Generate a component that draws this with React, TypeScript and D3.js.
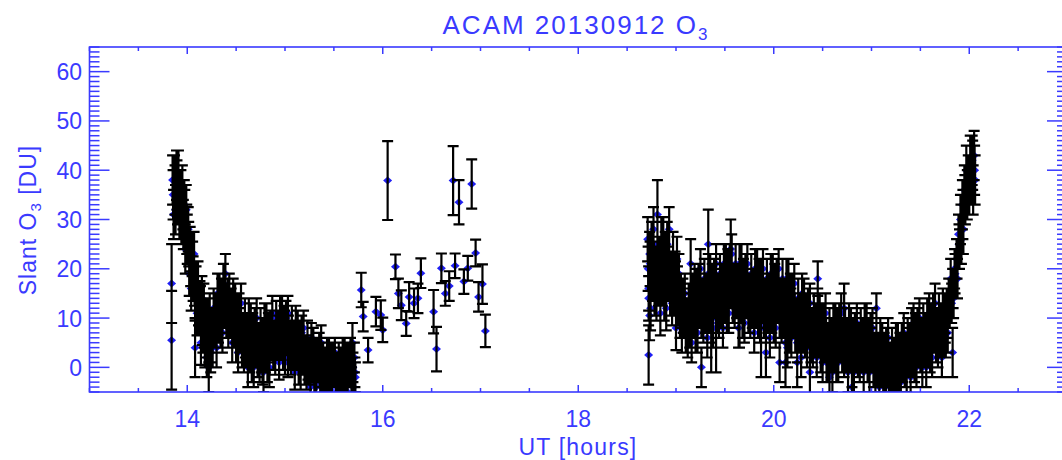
import React, { useRef, useEffect } from 'react';
import * as d3 from 'd3';

// each row: [UT hour, slant O3 (DU), 1-sigma error]
type Obs = [number, number, number];

const morning: Obs[] = [
  [13.85,38,5],[13.86,31,5],[13.87,38,5],[13.88,32,5],[13.89,39,5],[13.90,34,5],[13.91,39,5],[13.92,31,5],[13.93,35,5],[13.94,30,5],
  [13.95,36,5],[13.96,29,5],[13.97,33,5],[13.98,24,5],[13.99,32,5],[14.00,26,5],[14.01,28,4.5],[14.02,19,4.5],[14.03,24,4.5],[14.04,16,4.5],
  [14.05,23,4.5],[14.06,18,4.5],[14.07,23,4.5],[14.08,14,4.5],[14.09,16,4.5],[14.10,11,4.5],[14.11,17,4.5],[14.12,11,4.5],[14.13,13,4.5],[14.14,5,4.5],
  [14.15,14,4.5],[14.16,7,4],[14.17,13,4],[14.18,4,4],[14.19,10,4],[14.20,2,4],[14.21,10,4],[14.22,5,4],[14.23,11,4],[14.24,3,4],
  [14.25,8,4],[14.26,4,4],[14.27,12,4],[14.28,8,4],[14.29,11,4],[14.30,4,4],[14.31,15,4],[14.32,9,4],[14.33,15,4],[14.34,8,4],
  [14.35,14,4],[14.36,7,4],[14.37,17,4],[14.38,12,4],[14.39,19,4],[14.40,10,4],[14.41,13,4],[14.42,8,4],[14.43,15,4],[14.44,10,4],
  [14.45,12,4],[14.46,5,4],[14.47,14,4],[14.48,8,4],[14.49,13,4],[14.50,5,4],[14.51,11,4],[14.52,3,4],[14.53,11,4],[14.54,7,4],
  [14.55,13,4],[14.56,4,4],[14.57,7,4],[14.58,3,4],[14.59,10,4],[14.60,4,4],[14.61,7,4],[14.62,0,4],[14.63,10,4],[14.64,3,4],
  [14.65,9,4],[14.66,1,4],[14.67,7,4],[14.68,0,4],[14.69,8,4],[14.70,4,4],[14.71,10,4],[14.72,2,4],[14.73,5,4],[14.74,1,4],
  [14.75,8,4],[14.76,3,4],[14.77,6,4],[14.78,-1,4],[14.79,9,4],[14.80,3,4],[14.81,9,4],[14.82,1,4],[14.83,7,4],[14.84,0,4],
  [14.85,8,3.5],[14.86,5,3.5],[14.87,11,3.5],[14.88,3,3.5],[14.89,6,3.5],[14.90,2,3.5],[14.91,10,3.5],[14.92,5,3.5],[14.93,8,3.5],[14.94,1,3.5],
  [14.95,11,3.5],[14.96,5,3.5],[14.97,11,3.5],[14.98,3,3.5],[14.99,9,3.5],[15.00,2,3.5],[15.01,10,3.5],[15.02,6,3.5],[15.03,11,3.5],[15.04,3,3.5],
  [15.05,6,3.5],[15.06,2,3.5],[15.07,9,3.5],[15.08,3,3.5],[15.09,6,3.5],[15.10,-1,3.5],[15.11,9,3.5],[15.12,3,3.5],[15.13,8,3.5],[15.14,0,3.5],
  [15.15,6,3.5],[15.16,-1,3.5],[15.17,7,3.5],[15.18,2,3.5],[15.19,8,3.5],[15.20,0,3.5],[15.21,3,3.5],[15.22,-1,3.5],[15.23,6,3.5],[15.24,0,3.5],
  [15.25,3,3],[15.26,-4,3],[15.27,6,3],[15.28,0,3],[15.29,5,3],[15.30,-3,3],[15.31,3,3],[15.32,-4,3],[15.33,3,3],[15.34,0,3],
  [15.35,4,3],[15.36,-3,3],[15.37,0,3],[15.38,-4,3],[15.39,2,3],[15.40,-2,3],[15.41,1,3],[15.42,-6,3],[15.43,3,3],[15.44,-2,3],
  [15.45,3,3],[15.46,-4,3],[15.47,2,3],[15.48,-5,3],[15.49,2,3],[15.50,-1,3],[15.51,3,3],[15.52,-3,3],[15.53,0,3],[15.54,-4,3],
  [15.55,2,3],[15.56,-2,3],[15.57,1,3],[15.58,-6,3],[15.59,3,3],[15.60,-2,3],[15.61,3,3],[15.62,-4,3],[15.63,2,3],[15.64,-5,3],
  [15.65,2,3],[15.66,-1,3],[15.67,3,3],[15.68,-3,3],[15.69,0,3],[15.70,-4,3],[15.71,2,3],[15.72,-2,3],
];

// interleaved retrievals near the running level of the morning scans
const morningMid: Obs[] = [
  [13.855,35,5],[13.875,36,5],[13.895,37,5],[13.915,35,5],[13.935,35,5],[13.955,33,5],[13.975,31,5],[13.995,28,5],[14.015,25,4.5],[14.035,21,4.5],
  [14.055,21,4.5],[14.075,17,4.5],[14.095,17,4.5],[14.115,13,4.5],[14.135,12,4.5],[14.155,9,4.5],[14.175,8,4],[14.195,6,4],[14.215,6,4],[14.235,5,4],
  [14.255,7,4],[14.275,8,4],[14.295,10,4],[14.315,10,4],[14.335,12,4],[14.355,11,4],[14.375,14,4],[14.395,13,4],[14.415,14,4],[14.435,12,4],
  [14.455,11,4],[14.475,10,4],[14.495,9,4],[14.515,8,4],[14.535,8,4],[14.555,7,4],[14.575,7,4],[14.595,6,4],[14.615,6,4],[14.635,5,4],
  [14.655,5,4],[14.675,4,4],[14.695,5,4],[14.715,4,4],[14.735,5,4],[14.755,4,4],[14.775,5,4],[14.795,4,4],[14.815,5,4],[14.835,5,4],
  [14.855,5,3.5],[14.875,6,3.5],[14.895,6,3.5],[14.915,7,3.5],[14.935,6,3.5],[14.955,7,3.5],[14.975,7,3.5],[14.995,8,3.5],[15.015,7,3.5],[15.035,7,3.5],
  [15.055,6,3.5],[15.075,5,3.5],[15.095,5,3.5],[15.115,4,3.5],[15.135,4,3.5],[15.155,3,3.5],[15.175,3,3.5],[15.195,2,3.5],[15.215,2,3.5],[15.235,1,3.5],
  [15.255,1,3],[15.275,1,3],[15.295,0,3],[15.315,0,3],[15.335,0,3],[15.355,-1,3],[15.375,0,3],[15.395,-1,3],[15.415,0,3],[15.435,-1,3],
  [15.455,0,3],[15.475,-1,3],[15.495,0,3],[15.515,-1,3],[15.535,0,3],[15.555,-1,3],[15.575,0,3],[15.595,-1,3],[15.615,0,3],[15.635,-1,3],
  [15.655,0,3],[15.675,-1,3],[15.695,0,3],[15.715,-1,3],
];

const afternoon: Obs[] = [
  [15.78,15.7,3.5],[15.80,10.3,3],[15.85,3.5,2.5],[15.93,11.3,3],[15.98,10.6,3],[16.00,7.6,2.5],[16.05,37.9,8],
  [16.13,20.4,2.5],[16.16,15,3],[16.19,12.6,3],[16.24,8.9,2.5],[16.27,14.3,3],[16.32,13,3],[16.36,14,3],[16.39,19.1,3],
  [16.52,11.3,4.4],[16.55,3.7,4.5],[16.60,20.1,3],[16.64,15,2.5],[16.68,16.5,3],[16.72,37.9,7],[16.74,20.6,2.5],
  [16.78,33.5,4.5],[16.83,17.4,2.5],[16.87,20.1,2.5],[16.91,37.2,5],[16.95,23.2,2.7],[16.98,14.3,3],[17.02,16.9,4],[17.05,7.4,3.3],
];

const evening: Obs[] = [
  [18.71,26,4.5],[18.72,14,4.5],[18.73,23,4.5],[18.74,12,4.5],[18.75,25,4.5],[18.76,18,4.5],[18.77,28,4.5],[18.78,15,4.5],[18.79,20,4.5],[18.80,14,4.5],
  [18.81,25,4.5],[18.82,17,4.5],[18.83,22,4.5],[18.84,11,4.5],[18.85,26,4.5],[18.86,17,4.5],[18.87,26,4.5],[18.88,14,4.5],[18.89,23,4.5],[18.90,12,4.5],
  [18.91,25,4.5],[18.92,18,4.5],[18.93,28,4.5],[18.94,15,4.5],[18.95,19,4.5],[18.96,13,4.5],[18.97,23,4.5],[18.98,15,4.5],[18.99,19,4.5],[19.00,8,4.5],
  [19.01,22,4.5],[19.02,13,4.5],[19.03,19,4],[19.04,10,4],[19.05,15,4],[19.06,7,4],[19.07,14,4],[19.08,10,4],[19.09,15,4],[19.10,7,4],
  [19.11,10,4],[19.12,6,4],[19.13,13,4],[19.14,8,4],[19.15,12,4],[19.16,5,4],[19.17,15,4],[19.18,10,4],[19.19,17,4],[19.20,7,4],
  [19.21,16,4],[19.22,7,4],[19.23,17,4],[19.24,12,4],[19.25,20,4],[19.26,10,4],[19.27,14,4],[19.28,9,4],[19.29,18,4],[19.30,11,4],
  [19.31,15,4],[19.32,6,4],[19.33,19,4],[19.34,11,4],[19.35,19,4],[19.36,9,4],[19.37,17,4],[19.38,8,4],[19.39,18,4],[19.40,14,4],
  [19.41,21,4],[19.42,11,4],[19.43,15,4],[19.44,10,4],[19.45,19,4],[19.46,12,4],[19.47,17,4],[19.48,8,4],[19.49,21,4],[19.50,13,4],
  [19.51,21,4],[19.52,11,4],[19.53,20,4],[19.54,11,4],[19.55,21,4],[19.56,16,4],[19.57,23,4],[19.58,13,4],[19.59,17,4],[19.60,12,4],
  [19.61,21,4],[19.62,14,4],[19.63,17,4],[19.64,8,4],[19.65,21,4],[19.66,13,4],[19.67,21,4],[19.68,10,4],[19.69,18,4],[19.70,9,4],
  [19.71,19,4],[19.72,14,4],[19.73,21,4],[19.74,11,4],[19.75,15,4],[19.76,10,4],[19.77,19,4],[19.78,12,4],[19.79,16,4],[19.80,7,4],
  [19.81,20,4],[19.82,12,4],[19.83,20,4],[19.84,10,4],[19.85,18,4],[19.86,9,4],[19.87,18,4],[19.88,13,4],[19.89,20,4],[19.90,10,4],
  [19.91,14,4],[19.92,9,4],[19.93,18,4],[19.94,11,4],[19.95,15,4],[19.96,6,4],[19.97,19,4],[19.98,11,4],[19.99,19,4],[20.00,9,4],
  [20.01,17,4],[20.02,8,4],[20.03,18,4],[20.04,13,4],[20.05,20,4],[20.06,10,4],[20.07,14,4],[20.08,9,4],[20.09,18,4],[20.10,10,4],
  [20.11,14,4],[20.12,5,4],[20.13,18,4],[20.14,10,4],[20.15,18,4],[20.16,7,4],[20.17,15,4],[20.18,6,4],[20.19,15,4],[20.20,10,4],
  [20.21,17,4],[20.22,7,4],[20.23,10,4],[20.24,5,4],[20.25,14,4],[20.26,7,4],[20.27,11,4],[20.28,2,4],[20.29,15,4],[20.30,7,4],
  [20.31,14,4],[20.32,6,4],[20.33,11,4],[20.34,4,4],[20.35,12,4],[20.36,8,4],[20.37,13,4],[20.38,5,4],[20.39,8,4],[20.40,4,4],
  [20.41,11,4],[20.42,6,4],[20.43,9,4],[20.44,2,4],[20.45,12,4],[20.46,6,4],[20.47,11,4],[20.48,3,4],[20.49,9,4],[20.50,1,4],
  [20.51,9,4],[20.52,5,4],[20.53,11,4],[20.54,3,4],[20.55,5,4],[20.56,1,4],[20.57,8,4],[20.58,3,4],[20.59,6,4],[20.60,-1,4],
  [20.61,9,4],[20.62,3,4],[20.63,9,4],[20.64,1,4],[20.65,8,4],[20.66,1,4],[20.67,9,4],[20.68,5,4],[20.69,11,4],[20.70,3,4],
  [20.71,6,4],[20.72,2,4],[20.73,8,4],[20.74,3,4],[20.75,6,4],[20.76,-1,4],[20.77,9,4],[20.78,3,4],[20.79,8,4],[20.80,0,4],
  [20.81,6,4],[20.82,-1,4],[20.83,7,4],[20.84,3,4],[20.85,9,4],[20.86,2,4],[20.87,5,4],[20.88,1,4],[20.89,8,4],[20.90,3,4],
  [20.91,6,4],[20.92,-1,4],[20.93,9,4],[20.94,3,4],[20.95,9,4],[20.96,1,4],[20.97,6,4],[20.98,-1,4],[20.99,7,4],[21.00,3,4],
  [21.01,8,4],[21.02,0,4],[21.03,3,4],[21.04,-1,4],[21.05,6,4],[21.06,0,4],[21.07,3,4],[21.08,-4,4],[21.09,6,4],[21.10,0,4],
  [21.11,5,4],[21.12,-3,4],[21.13,3,4],[21.14,-4,4],[21.15,4,4],[21.16,0,4],[21.17,6,4],[21.18,-2,4],[21.19,1,4],[21.20,-3,4],
  [21.21,4,4],[21.22,-1,4],[21.23,2,4],[21.24,-5,4],[21.25,5,4],[21.26,-1,4],[21.27,5,4],[21.28,-3,4],[21.29,3,4],[21.30,-3,4],
  [21.31,5,4],[21.32,1,4],[21.33,7,4],[21.34,0,4],[21.35,3,4],[21.36,-1,4],[21.37,6,4],[21.38,2,4],[21.39,5,4],[21.40,-2,4],
  [21.41,8,4],[21.42,2,4],[21.43,9,4],[21.44,1,4],[21.45,7,4],[21.46,0,4],[21.47,8,4],[21.48,4,4],[21.49,10,4],[21.50,3,4],
  [21.51,6,4],[21.52,2,4],[21.53,9,4],[21.54,4,4],[21.55,7,4],[21.56,0,4],[21.57,10,4],[21.58,4,4],[21.59,11,4],[21.60,3,4],
  [21.61,9,4],[21.62,2,4],[21.63,11,4],[21.64,7,4],[21.65,13,4],[21.66,5,4],[21.67,8,4],[21.68,4,4],[21.69,11,4],[21.70,6,4],
  [21.71,9,4],[21.72,2,4],[21.73,12,4],[21.74,6,4],[21.75,11,4],[21.76,6,4],[21.77,12,4],[21.78,7,4],[21.79,14,4],[21.80,12,4],
  [21.81,18,4],[21.82,13,4],[21.83,16,4],[21.84,14,4],[21.85,20,4],[21.86,18,4],[21.87,22,4],[21.88,18,4],[21.89,27,4],[21.90,24,4],
  [21.91,30,5],[21.92,26,5],[21.93,33,5],[21.94,28,5],[21.95,36,5],[21.96,34,5],[21.97,40,5],[21.98,35,5],[21.99,38,5],[22.00,36,5],
  [22.01,42,5],[22.02,38,5],[22.03,42,5],[22.04,36,5],[22.05,43,5],[22.06,38,5],
];

// interleaved retrievals near the running level of the evening scans
const eveningMid: Obs[] = [
  [18.715,20,4.5],[18.735,21,4.5],[18.755,20,4.5],[18.775,21,4.5],[18.795,19,4.5],[18.815,20,4.5],[18.835,19,4.5],[18.855,20,4.5],[18.875,20,4.5],[18.895,19,4.5],
  [18.915,20,4.5],[18.935,19,4.5],[18.955,19,4.5],[18.975,18,4.5],[18.995,17,4.5],[19.015,16,4.5],[19.035,15,4],[19.055,12,4],[19.075,11,4],[19.095,10,4],
  [19.115,10,4],[19.135,10,4],[19.155,10,4],[19.175,11,4],[19.195,12,4],[19.215,13,4],[19.235,13,4],[19.255,14,4],[19.275,14,4],[19.295,14,4],
  [19.315,14,4],[19.335,14,4],[19.355,14,4],[19.375,14,4],[19.395,15,4],[19.415,15,4],[19.435,15,4],[19.455,15,4],[19.475,16,4],[19.495,16,4],
  [19.515,16,4],[19.535,17,4],[19.555,17,4],[19.575,17,4],[19.595,17,4],[19.615,17,4],[19.635,16,4],[19.655,16,4],[19.675,16,4],[19.695,15,4],
  [19.715,15,4],[19.735,15,4],[19.755,15,4],[19.775,15,4],[19.795,15,4],[19.815,15,4],[19.835,15,4],[19.855,15,4],[19.875,14,4],[19.895,14,4],
  [19.915,14,4],[19.935,14,4],[19.955,14,4],[19.975,14,4],[19.995,14,4],[20.015,14,4],[20.035,14,4],[20.055,14,4],[20.075,14,4],[20.095,14,4],
  [20.115,13,4],[20.135,13,4],[20.155,13,4],[20.175,12,4],[20.195,11,4],[20.215,11,4],[20.235,10,4],[20.255,10,4],[20.275,10,4],[20.295,10,4],
  [20.315,10,4],[20.335,9,4],[20.355,9,4],[20.375,8,4],[20.395,8,4],[20.415,8,4],[20.435,8,4],[20.455,8,4],[20.475,7,4],[20.495,6,4],
  [20.515,6,4],[20.535,6,4],[20.555,5,4],[20.575,5,4],[20.595,5,4],[20.615,5,4],[20.635,5,4],[20.655,6,4],[20.675,6,4],[20.695,6,4],
  [20.715,6,4],[20.735,5,4],[20.755,5,4],[20.775,5,4],[20.795,4,4],[20.815,4,4],[20.835,4,4],[20.855,4,4],[20.875,5,4],[20.895,5,4],
  [20.915,5,4],[20.935,5,4],[20.955,5,4],[20.975,4,4],[20.995,4,4],[21.015,3,4],[21.035,3,4],[21.055,3,4],[21.075,2,4],[21.095,2,4],
  [21.115,1,4],[21.135,1,4],[21.155,1,4],[21.175,1,4],[21.195,1,4],[21.215,1,4],[21.235,1,4],[21.255,1,4],[21.275,1,4],[21.295,2,4],
  [21.315,2,4],[21.335,3,4],[21.355,3,4],[21.375,3,4],[21.395,4,4],[21.415,4,4],[21.435,5,4],[21.455,5,4],[21.475,5,4],[21.495,6,4],
  [21.515,6,4],[21.535,6,4],[21.555,6,4],[21.575,6,4],[21.595,7,4],[21.615,7,4],[21.635,8,4],[21.655,8,4],[21.675,8,4],[21.695,8,4],
  [21.715,8,4],[21.735,8,4],[21.755,9,4],[21.775,10,4],[21.795,12,4],[21.815,14,4],[21.835,16,4],[21.855,19,4],[21.875,22,4],[21.895,25,4],
  [21.915,28,5],[21.935,31,5],[21.955,34,5],[21.975,36,5],[21.995,38,5],[22.015,40,5],[22.035,41,5],[22.055,40,5],
];

// isolated retrievals with large scatter or big uncertainty
const outliers: Obs[] = [
  [13.84,17,8],[13.84,5.5,10],[14.08,4,6],[14.22,0,5],[14.77,-1,2.5],[15.03,1,3],[15.37,5,3.5],[15.69,5,4],
  [18.72,2.5,6],[18.73,10.5,5],[18.72,16,4.5],[18.81,31,7],[19.15,21,5],[19.26,0,4],[19.33,25,7],[19.36,8,9],
  [19.41,10,11],[19.56,24,6],[19.65,12,8],[19.87,8,10],[19.92,3,5],[20.06,1,4],[20.12,1,5],[20.14,4,4],
  [20.24,1,5],[20.37,-1,5],[20.45,18,3.5],[20.54,1,4],[20.57,-2,4],[20.72,12,5],[20.80,-4,3],[21.05,12,3],
  [21.15,-2,3],[21.52,0,4],[21.83,3,5],
];

const hourTicks = [14, 16, 18, 20, 22];
const slantTicks = [0, 10, 20, 30, 40, 50, 60];

const BLUE = '#3a3aff';
const FONT = '"Liberation Sans", Arial, sans-serif';

const AcamChart: React.FC = () => {
  const svgRef = useRef<SVGSVGElement>(null);

  useEffect(() => {
    if (!svgRef.current) return;
    const svg = d3.select(svgRef.current);
    svg.selectAll('*').remove();

    const left = 89.5, right = 1067, top = 47, bottom = 392;
    const x = d3.scaleLinear().domain([13, 23]).range([left, right]);
    const y = d3.scaleLinear().domain([-5, 65]).range([bottom, top]);

    svg.append('defs').append('clipPath').attr('id', 'plot-clip')
      .append('rect')
      .attr('x', left).attr('y', top)
      .attr('width', right - left).attr('height', bottom - top);

    const all = [...morning, ...morningMid, ...afternoon, ...evening, ...eveningMid, ...outliers]
      .sort((a, b) => a[0] - b[0]);
    const plot = svg.append('g').attr('clip-path', 'url(#plot-clip)');

    // Diamonds first, error bars over them (IDL oploterr order)
    plot.selectAll('path.pt')
      .data(all)
      .enter()
      .append('path')
      .attr('class', 'pt')
      .attr('d', d => {
        const cx = x(d[0]), cy = y(d[1]);
        return `M${cx - 4.5},${cy}L${cx},${cy - 4}L${cx + 4.5},${cy}L${cx},${cy + 4}Z`;
      })
      .attr('fill', '#2020f4');

    const cap = 5.5;
    plot.append('path')
      .attr('d', all.map(([t, v, e]) => {
        const cx = x(t), y0 = y(v + e), y1 = y(v - e);
        return `M${cx - cap},${y0}H${cx + cap}M${cx},${y0}V${y1}M${cx - cap},${y1}H${cx + cap}`;
      }).join(''))
      .attr('fill', 'none')
      .attr('stroke', '#000')
      .attr('stroke-width', 2.2);

    // Frame
    svg.append('rect')
      .attr('x', left).attr('y', top)
      .attr('width', right - left).attr('height', bottom - top)
      .attr('fill', 'none').attr('stroke', BLUE).attr('stroke-width', 1.6);

    // X ticks every half hour, long ones on labelled hours
    const xt = svg.append('g').attr('stroke', BLUE).attr('stroke-width', 1.5);
    d3.range(13, 23.001, 0.5).forEach(h => {
      const len = hourTicks.includes(h) ? 7 : 4;
      const px = x(h);
      xt.append('line').attr('x1', px).attr('x2', px).attr('y1', bottom).attr('y2', bottom - len);
      xt.append('line').attr('x1', px).attr('x2', px).attr('y1', top).attr('y2', top + len);
    });

    // Y ticks every 1 DU, long ones every 10
    const yt = svg.append('g').attr('stroke', BLUE).attr('stroke-width', 1.5);
    d3.range(-5, 65.001, 1).forEach(v => {
      const len = slantTicks.includes(v) ? 20 : 10;
      const py = y(v);
      yt.append('line').attr('x1', left).attr('x2', left + len).attr('y1', py).attr('y2', py);
      yt.append('line').attr('x1', right).attr('x2', right - len).attr('y1', py).attr('y2', py);
    });

    const text = svg.append('g').attr('fill', BLUE).style('font-family', FONT);

    text.selectAll('text.xl')
      .data(hourTicks)
      .enter()
      .append('text')
      .attr('x', d => x(d))
      .attr('y', 427)
      .attr('text-anchor', 'middle')
      .style('font-size', '23px')
      .text(d => d);

    text.selectAll('text.yl')
      .data(slantTicks)
      .enter()
      .append('text')
      .attr('x', 82)
      .attr('y', d => y(d) + 8.5)
      .attr('text-anchor', 'end')
      .style('font-size', '23px')
      .text(d => d);

    text.append('text')
      .attr('x', 578).attr('y', 455)
      .attr('text-anchor', 'middle')
      .style('font-size', '23px')
      .style('letter-spacing', '1.2px')
      .text('UT [hours]');

    const yl = text.append('text')
      .attr('transform', 'translate(36,220) rotate(-90)')
      .attr('text-anchor', 'middle')
      .style('font-size', '23px')
      .style('letter-spacing', '1px');
    yl.append('tspan').text('Slant O');
    yl.append('tspan').attr('dy', 5).style('font-size', '15px').text('3');
    yl.append('tspan').attr('dy', -5).text(' [DU]');

    const title = text.append('text')
      .attr('x', 576).attr('y', 34)
      .attr('text-anchor', 'middle')
      .style('font-size', '26px')
      .style('letter-spacing', '2px');
    title.append('tspan').text('ACAM 20130912 O');
    title.append('tspan').attr('dy', 6).style('font-size', '17px').text('3');
  }, []);

  return (
    <svg
      ref={svgRef}
      width={1062}
      height={460}
      style={{ position: 'absolute', left: 0, top: 0, background: '#fff' }}
    />
  );
};

export default function App() {
  return <AcamChart />;
}
